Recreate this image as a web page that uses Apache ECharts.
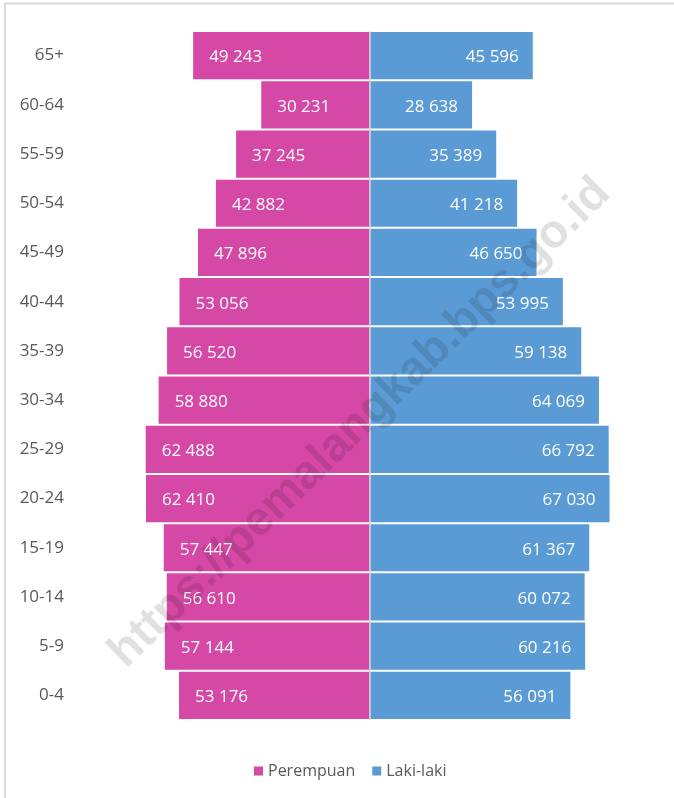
<!DOCTYPE html>
<html>
<head>
<meta charset="utf-8">
<script src="https://cdn.jsdelivr.net/npm/echarts@6/dist/echarts.min.js"></script>
<style>
  html, body { margin: 0; padding: 0; background: #fff; }
  #main { width: 674px; height: 798px; }
</style>
</head>
<body>
<div id="main"></div>
<script>
// age groups, top to bottom
var ageGroups = ['65+', '60-64', '55-59', '50-54', '45-49', '40-44', '35-39', '30-34',
  '25-29', '20-24', '15-19', '10-14', '5-9', '0-4'];
var perempuan = [49243, 30231, 37245, 42882, 47896, 53056, 56520, 58880,
  62488, 62410, 57447, 56610, 57144, 53176];
var lakiLaki = [45596, 28638, 35389, 41218, 46650, 53995, 59138, 64069,
  66792, 67030, 61367, 60072, 60216, 56091];

var font = '"Open Sans", "Noto Sans", sans-serif';

function fmt(v) {
  return String(Math.abs(v)).replace(/\B(?=(\d{3})+(?!\d))/g, ' ');
}

var chartDom = document.getElementById('main');
var myChart = echarts.init(chartDom);
var option;

option = {
  animation: false,
  legend: {
    data: ['Perempuan', 'Laki-laki'],
    left: 249,
    top: 758,
    itemWidth: 9,
    itemHeight: 9,
    itemGap: 17,
    icon: 'rect',
    textStyle: { fontFamily: font, fontSize: 16, color: '#595959' }
  },
  graphic: [
    {
      type: 'rect',
      z: -10,
      shape: { x: 5, y: 3.5, width: 700, height: 820 },
      style: { fill: 'none', stroke: '#d9d9d9', lineWidth: 2 }
    },
    {
      type: 'text',
      z: 100,
      x: 360,
      y: 423,
      rotation: 0.773,
      silent: true,
      style: {
        text: 'https://pemalangkab.bps.go.id',
        font: 'bold 47px "Liberation Sans", Arial, sans-serif',
        fill: 'rgba(0,0,0,0.12)',
        align: 'center',
        verticalAlign: 'middle'
      }
    }
  ],
  grid: {
    left: 83,
    right: 18,
    top: 31,
    bottom: 78
  },
  xAxis: {
    type: 'value',
    min: -80000,
    max: 80000,
    show: false
  },
  yAxis: {
    type: 'category',
    data: ageGroups,
    inverse: true,
    axisLine: { show: false, onZero: false },
    axisTick: { show: false },
    axisLabel: {
      margin: 19, fontFamily: font, fontSize: 17, color: '#595959',
      padding: [4, 0, 0, 0]
    }
  },
  series: [
    {
      name: 'Perempuan',
      type: 'bar',
      stack: 'total',
      barCategoryGap: '4%',
      itemStyle: { color: '#d548a6' },
      label: {
        show: true,
        position: 'insideLeft',
        distance: 16,
        offset: [0, 2],
        color: '#fff',
        fontFamily: font,
        fontSize: 17,
        formatter: function (p) { return fmt(p.value); }
      },
      data: perempuan.map(function (v) { return -v; }),
      markLine: {
        silent: true,
        symbol: 'none',
        label: { show: false },
        lineStyle: { color: '#d9d9d9', width: 1.5, type: 'solid' },
        data: [{ xAxis: 0 }]
      }
    },
    {
      name: 'Laki-laki',
      type: 'bar',
      stack: 'total',
      barCategoryGap: '4%',
      itemStyle: { color: '#5b9bd5' },
      label: {
        show: true,
        position: 'insideRight',
        distance: 14,
        offset: [0, 2],
        color: '#fff',
        fontFamily: font,
        fontSize: 17,
        formatter: function (p) { return fmt(p.value); }
      },
      data: lakiLaki
    }
  ]
};

option && myChart.setOption(option);
</script>
</body>
</html>
